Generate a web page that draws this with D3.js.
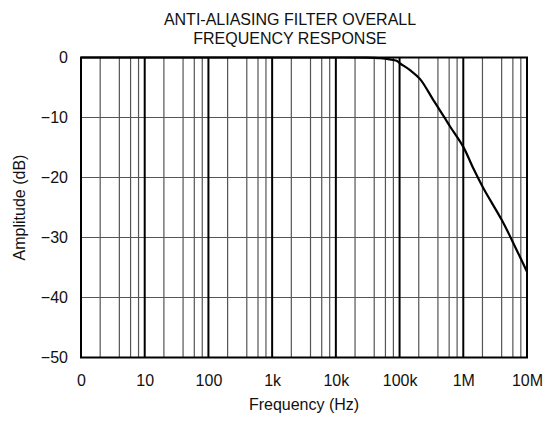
<!DOCTYPE html>
<html><head><meta charset="utf-8">
<script src="https://cdn.jsdelivr.net/npm/d3@7"></script>
<style>body{margin:0;background:#fff}svg{display:block}text{font-family:"Liberation Sans",Arial,sans-serif;fill:#111}</style>
</head><body><svg id="c" width="546" height="424"></svg>
<script>
const titleLines = ["ANTI-ALIASING FILTER OVERALL", "FREQUENCY RESPONSE"];
const xTickValues = [1, 10, 100, 1e3, 1e4, 1e5, 1e6, 1e7];
const xTickLabels = ["0", "10", "100", "1k", "10k", "100k", "1M", "10M"];
const yTickValues = [0, -10, -20, -30, -40, -50];
const freqHz = [1, 10, 100, 1000, 10000, 30000, 50000, 70000, 90000, 102000, 146000, 210000, 339000, 499000, 620000, 1000000, 1440000, 2070000, 4020000, 5770000, 10000000];
const ampDb = [0, 0, 0, 0, 0, -0.03, -0.12, -0.3, -0.55, -1.0, -2.1, -3.6, -7.1, -9.9, -11.5, -14.9, -18.5, -21.8, -27.1, -30.4, -35.7];

const svg = d3.select("#c");
const m = {l: 81, r: 527, t: 57.5, b: 357.5};
const x = d3.scaleLog().domain([1, 1e7]).range([m.l, m.r]);
const y = d3.scaleLinear().domain([-50, 0]).range([m.b, m.t]);

// minor grid
const minor = [];
for (let d = 0; d < 7; d++) for (const k of [2, 4, 6, 8]) minor.push(k * Math.pow(10, d));
svg.append("g").selectAll("line").data(minor).join("line")
  .attr("x1", d => x(d)).attr("x2", d => x(d)).attr("y1", m.t).attr("y2", m.b)
  .attr("stroke", "#555").attr("stroke-width", 1.2);
svg.append("g").selectAll("line").data(yTickValues.slice(1, -1)).join("line")
  .attr("x1", m.l).attr("x2", m.r).attr("y1", d => y(d)).attr("y2", d => y(d))
  .attr("stroke", "#555").attr("stroke-width", 1.2);
svg.append("g").selectAll("line").data(xTickValues.slice(1, -1)).join("line")
  .attr("x1", d => x(d)).attr("x2", d => x(d)).attr("y1", m.t).attr("y2", m.b)
  .attr("stroke", "#000").attr("stroke-width", 2);

// curve
const line = d3.line().x((d, i) => x(freqHz[i])).y(d => y(d)).curve(d3.curveCatmullRom.alpha(0.5));
svg.append("path").attr("d", line(ampDb)).attr("fill", "none").attr("stroke", "#000").attr("stroke-width", 2.2);

// frame
svg.append("rect").attr("x", m.l).attr("y", m.t).attr("width", m.r - m.l).attr("height", m.b - m.t)
  .attr("fill", "none").attr("stroke", "#000").attr("stroke-width", 2);

// axes labels
const xa = d3.axisBottom(x).tickValues(xTickValues).tickFormat((d, i) => xTickLabels[i]).tickSize(0).tickPadding(17);
const gx = svg.append("g").attr("transform", `translate(0,${m.b})`).call(xa);
gx.select(".domain").remove();
gx.selectAll("text").style("font-size", "16px").style("font-family", "'Liberation Sans',Arial,sans-serif").attr("fill", "#111");
const ya = d3.axisLeft(y).tickValues(yTickValues).tickFormat(d => d === 0 ? "0" : "\u2212" + Math.abs(d)).tickSize(0).tickPadding(13);
const gy = svg.append("g").attr("transform", `translate(${m.l},0)`).call(ya);
gy.select(".domain").remove();
gy.selectAll("text").style("font-size", "16px").style("font-family", "'Liberation Sans',Arial,sans-serif").attr("fill", "#111");

svg.append("text").attr("x", (m.l + m.r) / 2).attr("y", 410).attr("text-anchor", "middle").style("font-size", "16px").text("Frequency (Hz)");
svg.append("text").attr("transform", `translate(25,${(m.t + m.b) / 2}) rotate(-90)`).attr("text-anchor", "middle").style("font-size", "16px").text("Amplitude (dB)");
svg.selectAll(".title").data(titleLines).join("text").attr("class", "title")
  .attr("x", 290).attr("y", (d, i) => 25 + i * 19).attr("text-anchor", "middle").style("font-size", "16px").text(d => d);
</script></body></html>
